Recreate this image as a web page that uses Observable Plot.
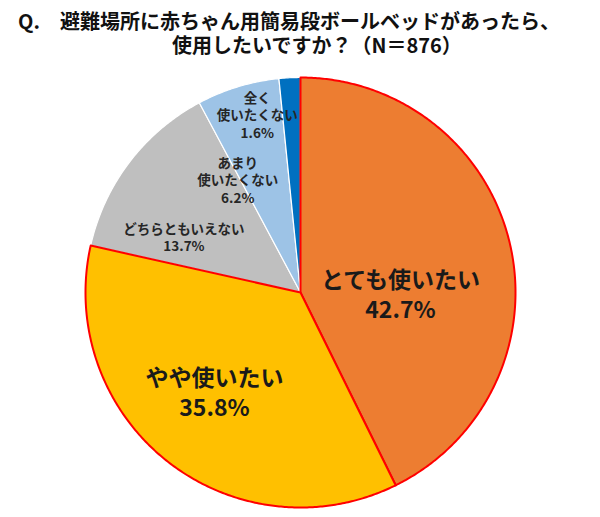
<!DOCTYPE html>
<html>
<head>
<meta charset="utf-8">
<script src="https://cdn.jsdelivr.net/npm/d3@7"></script>
<script src="https://cdn.jsdelivr.net/npm/@observablehq/plot@0.6"></script>
<style>
  html, body { margin: 0; padding: 0; background: #fff; }
  #title { font-family: "Noto Sans CJK JP", "Noto Sans", sans-serif; font-weight: bold; font-size: 20px; line-height: 24px; color: #111; padding-top: 9px; padding-left: 18px; height: 49px; white-space: nowrap; }
  #title .l2 { padding-left: 154px; }
</style>
</head>
<body>
<div id="title"><div>Q.　避難場所に赤ちゃん用簡易段ボールベッドがあったら、</div><div class="l2">使用したいですか？（N＝876）</div></div>
<div id="chart"></div>
<script>
// ---- data ----
const categories = ["とても使いたい", "やや使いたい", "どちらともいえない", "あまり使いたくない", "全く使いたくない"];
const displayNames = ["とても使いたい", "やや使いたい", "どちらともいえない", "あまり\n使いたくない", "全く\n使いたくない"];
const percents = [42.7, 35.8, 13.7, 6.2, 1.6];

// ---- styling / layout ----
const colors = ["#ED7D31", "#FFC000", "#BFBFBF", "#9DC3E6", "#0070C0"];
const emphasized = [true, true, false, false, false];
const labelSize = [23, 23, 13.5, 13.5, 13.5];
// label placement: [angle in degrees clockwise from top, fraction of radius]
const labelPlacement = [[90.5, 0.465], [221, 0.61], [295.4, 0.6], [330.9, 0.6], [346.3, 0.85]];

const total = d3.sum(percents);
let cum = 0;
const slices = categories.map((c, i) => {
  const a0 = cum / total * 2 * Math.PI;
  cum += percents[i];
  const a1 = cum / total * 2 * Math.PI;
  const n = Math.max(2, Math.ceil((a1 - a0) / (Math.PI / 360)));
  const ring = [[0, 0]];
  for (let k = 0; k <= n; k++) {
    const a = a0 + (a1 - a0) * k / n;
    ring.push([Math.sin(a), Math.cos(a)]);
  }
  ring.push([0, 0]);
  const [la, lr] = labelPlacement[i];
  const rad = la * Math.PI / 180;
  return {
    type: "Feature",
    properties: {
      category: c,
      emph: emphasized[i],
      label: `${displayNames[i]}\n${percents[i].toFixed(1)}%`,
      size: labelSize[i],
      lx: lr * Math.sin(rad),
      ly: lr * Math.cos(rad)
    },
    geometry: { type: "Polygon", coordinates: [ring] }
  };
});

const plain = slices.filter(d => !d.properties.emph);
const strong = slices.filter(d => d.properties.emph);
const bigLabels = slices.filter(d => d.properties.size > 15).map(d => d.properties);
const smallLabels = slices.filter(d => d.properties.size <= 15).map(d => d.properties);

const chart = Plot.plot({
  width: 600,
  height: 459,
  marginTop: 19,
  marginBottom: 10,
  marginLeft: 0,
  marginRight: 0,
  projection: { type: "reflect-y", domain: { type: "MultiPoint", coordinates: [[-1, -1], [1, 1]] } },
  color: { domain: categories, range: colors },
  style: { fontFamily: "'Noto Sans CJK JP', 'Noto Sans', sans-serif", background: "#fff" },
  marks: [
    Plot.geo(plain, { fill: d => d.properties.category, stroke: "#fff", strokeWidth: 1.2 }),
    Plot.geo(strong, { fill: d => d.properties.category, stroke: "#FF0000", strokeWidth: 2, strokeLinejoin: "round" }),
    Plot.text(bigLabels, { x: "lx", y: "ly", text: "label", fontSize: 23, fontWeight: "bold", fill: "#1a1a1a", lineHeight: 1.32 }),
    Plot.text(smallLabels, { x: "lx", y: "ly", text: "label", fontSize: 13.5, fontWeight: "bold", fill: "#262626", lineHeight: 1.28 })
  ]
});
document.getElementById("chart").appendChild(chart);
</script>
</body>
</html>
